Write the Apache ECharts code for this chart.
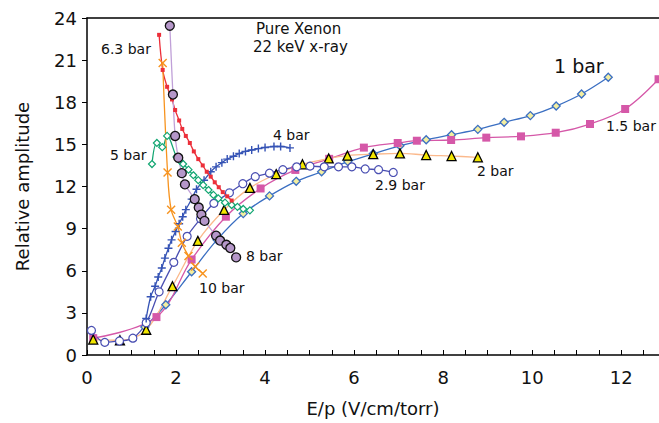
<!DOCTYPE html>
<html>
<head>
<meta charset="utf-8">
<script src="https://cdn.jsdelivr.net/npm/echarts@6/dist/echarts.min.js"></script>
<style>
  html, body { margin: 0; padding: 0; background: #fff; }
  #main { width: 659px; height: 423px; }
</style>
</head>
<body>
<div id="main"></div>
<script>
// data (E/p in V/cm/torr, relative amplitude)
const bar1X = [1.30, 1.77, 2.35, 2.92, 3.51, 4.10, 4.70, 5.27, 5.86, 6.43, 7.03, 7.62, 8.19, 8.78, 9.37, 9.96, 10.54, 11.11, 11.71]
const bar1Y = [2.0, 3.58, 5.93, 8.2, 10.07, 11.33, 12.37, 13.05, 13.77, 14.33, 14.9, 15.33, 15.69, 16.07, 16.57, 17.05, 17.73, 18.59, 19.78]

const bar15X = [0.14, 1.56, 2.35, 3.12, 3.90, 4.68, 5.44, 6.22, 6.98, 7.41, 8.18, 8.97, 9.75, 10.53, 11.30, 12.09, 12.84]
const bar15Y = [1.2, 2.7, 6.8, 9.85, 11.86, 13.18, 13.97, 14.77, 15.1, 15.26, 15.31, 15.48, 15.57, 15.83, 16.45, 17.52, 19.64]

const bar2X = [0.14, 0.74, 1.33, 1.92, 2.49, 3.08, 3.66, 4.25, 4.84, 5.43, 5.85, 6.43, 7.03, 7.62, 8.19, 8.78]
const bar2Y = [1.1, 1.05, 1.8, 4.9, 8.13, 10.33, 11.9, 12.88, 13.58, 14.0, 14.2, 14.3, 14.36, 14.24, 14.17, 14.08]

const bar29X = [0.10, 0.40, 0.73, 1.03, 1.33, 1.62, 1.95, 2.25, 2.55, 2.85, 3.20, 3.50, 3.78, 4.10, 4.40, 4.71, 5.01, 5.33, 5.65, 5.95, 6.25, 6.55, 6.88]
const bar29Y = [1.75, 0.9, 1.0, 1.2, 2.3, 4.5, 6.6, 8.45, 9.7, 10.8, 11.55, 12.2, 12.7, 12.95, 13.2, 13.4, 13.45, 13.4, 13.4, 13.4, 13.25, 13.2, 13.0]

const bar4X = [1.33, 1.43, 1.53, 1.60, 1.68, 1.75, 1.83, 1.90, 1.99, 2.07, 2.15, 2.22, 2.35, 2.46, 2.63, 2.78, 2.90, 3.03, 3.15, 3.29, 3.42, 3.56, 3.70, 3.85, 4.00, 4.20, 4.35, 4.56]
const bar4Y = [2.6, 4.15, 4.9, 5.55, 6.2, 6.9, 7.6, 8.2, 8.8, 9.35, 9.85, 10.35, 11.1, 11.8, 12.45, 13.05, 13.4, 13.7, 13.95, 14.15, 14.35, 14.5, 14.6, 14.7, 14.78, 14.85, 14.85, 14.75]

const bar5X = [1.46, 1.57, 1.69, 1.80, 2.01, 2.08, 2.16, 2.28, 2.39, 2.50, 2.61, 2.73, 2.84, 2.95, 3.10, 3.25, 3.38, 3.51, 3.66]
const bar5Y = [13.6, 15.1, 14.8, 15.6, 14.1, 13.85, 13.6, 13.2, 12.8, 12.45, 12.1, 11.75, 11.4, 11.15, 10.85, 10.68, 10.55, 10.4, 10.3]

const bar63X = [1.62, 1.70, 1.80, 1.91, 1.98, 2.07, 2.14, 2.22, 2.31, 2.40, 2.50, 2.60, 2.69, 2.78, 2.87, 2.96, 3.05, 3.15, 3.25]
const bar63Y = [22.8, 20.3, 19.1, 18.2, 17.45, 16.7, 16.1, 15.6, 15.1, 14.5, 13.95, 13.5, 13.05, 12.7, 12.3, 11.95, 11.6, 11.3, 11.0]

const bar8X = [1.86, 1.93, 1.98, 2.05, 2.13, 2.20, 2.42, 2.51, 2.57, 2.64, 2.90, 2.99, 3.13, 3.22, 3.35]
const bar8Y = [23.45, 18.55, 15.6, 14.05, 12.95, 12.15, 11.1, 10.5, 10.0, 9.55, 8.5, 8.15, 7.85, 7.62, 6.95]

const bar10X = [1.70, 1.81, 1.89, 2.04, 2.13, 2.28, 2.43, 2.60]
const bar10Y = [20.8, 13.0, 10.35, 9.15, 8.0, 7.05, 6.3, 5.8]

const yTicks = [0, 3, 6, 9, 12, 15, 18, 21, 24]

const FONT = '"DejaVu Sans", Verdana, sans-serif'

function pts (xs, ys) {
    return xs.map((x, i) => [x, ys[i]])
}

// 绘制一条曲线
function curve (name, xs, ys, color, symbol, size, item) {
    return {
        name: name,
        type: 'line',
        smooth: 0.35,
        data: pts(xs, ys),
        symbol: symbol,
        symbolSize: size,
        lineStyle: { color: color, width: 1.3 },
        itemStyle: item,
        emphasis: { disabled: true },
        z: 2
    }
}

const myChart = echarts.init(document.getElementById('main'), null, { renderer: 'svg' })

const crossPath = 'path://M0,0L10,10M10,0L0,10'
const plusPath = 'path://M5,0L5,10M0,5L10,5'

function label (text, left, top, size) {
    return {
        type: 'text',
        left: left,
        top: top,
        style: { text: text, font: (size || 14) + 'px ' + FONT, fill: '#111' }
    }
}

myChart.setOption({
    animation: false,
    backgroundColor: '#fff',
    grid: { left: 87, right: 0, top: 18, bottom: 68 },
    xAxis: [{
        type: 'value',
        min: 0,
        max: 12.85,
        interval: 0.5,
        name: 'E/p (V/cm/torr)',
        nameLocation: 'middle',
        nameGap: 44,
        nameTextStyle: { fontFamily: FONT, fontSize: 18, color: '#111' },
        axisLine: { lineStyle: { color: '#000', width: 1.5 } },
        axisTick: { inside: true, length: 5, lineStyle: { color: '#000' } },
        axisLabel: {
            fontFamily: FONT,
            fontSize: 18,
            color: '#111',
            margin: 13,
            showMaxLabel: false,
            formatter: v => (Math.abs(v % 2) < 1e-6 ? String(v) : '')
        },
        splitLine: { show: false }
    }, {
        type: 'value',
        position: 'top',
        min: 0,
        max: 12.85,
        axisLine: { lineStyle: { color: '#000', width: 1.5 } },
        axisTick: { show: false },
        axisLabel: { show: false },
        splitLine: { show: false }
    }],
    yAxis: {
        type: 'value',
        min: yTicks[0],
        max: yTicks[yTicks.length - 1],
        interval: 3,
        name: 'Relative amplitude',
        nameLocation: 'middle',
        nameGap: 56,
        nameTextStyle: { fontFamily: FONT, fontSize: 18, color: '#111' },
        axisLine: { show: true, lineStyle: { color: '#000', width: 1.5 } },
        axisTick: { show: true, length: 5, lineStyle: { color: '#000' } },
        axisLabel: { fontFamily: FONT, fontSize: 18, color: '#111', margin: 10 },
        splitLine: { show: false }
    },
    graphic: [
        label('Pure Xenon', 256, 21, 15),
        label('22 keV x-ray', 253, 39, 15),
        label('6.3 bar', 101, 42),
        label('5 bar', 110, 148),
        label('4 bar', 273, 128),
        label('1 bar', 554, 56, 19),
        label('1.5 bar', 606, 119),
        label('2.9 bar', 375, 178),
        label('2 bar', 477, 164),
        label('8 bar', 246, 249),
        label('10 bar', 199, 281)
    ],
    series: [
        curve('1 bar', bar1X, bar1Y, '#3b6fc2', 'diamond', 8,
            { color: '#f3eea0', borderColor: '#3b6fc2', borderWidth: 1.3 }),
        curve('1.5 bar', bar15X, bar15Y, '#d558a8', 'rect', 8,
            { color: '#d558a8' }),
        curve('2 bar', bar2X, bar2Y, '#fbb98c', 'triangle', 9,
            { color: '#f2e600', borderColor: '#000', borderWidth: 1.3 }),
        curve('2.9 bar', bar29X, bar29Y, '#4a4fb2', 'circle', 8,
            { color: '#fff', borderColor: '#4a4fb2', borderWidth: 1.2 }),
        curve('4 bar', bar4X, bar4Y, '#3553b5', plusPath, 8,
            { color: 'none', borderColor: '#3553b5', borderWidth: 1.4 }),
        curve('5 bar', bar5X, bar5Y, '#12a672', 'diamond', 7,
            { color: '#fff', borderColor: '#12a672', borderWidth: 1.2 }),
        curve('6.3 bar', bar63X, bar63Y, '#ec2f3a', 'rect', 4,
            { color: '#ec2f3a' }),
        curve('8 bar', bar8X, bar8Y, '#c0a0d8', 'circle', 9,
            { color: '#b597c9', borderColor: '#111', borderWidth: 1.3 }),
        curve('10 bar', bar10X, bar10Y, '#f7931e', crossPath, 8,
            { color: 'none', borderColor: '#f7931e', borderWidth: 1.4 })
    ]
})
</script>
</body>
</html>
